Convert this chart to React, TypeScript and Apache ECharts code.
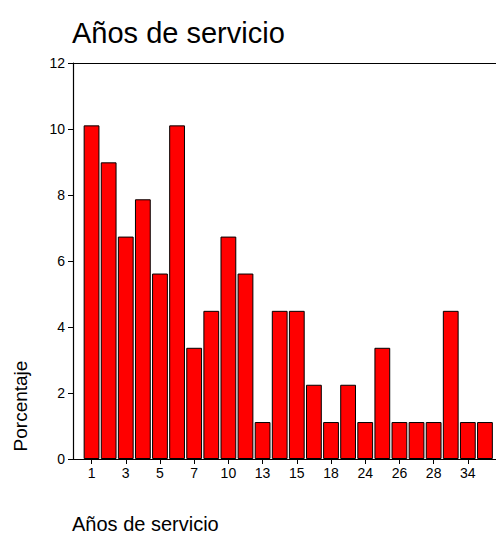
import React, { useEffect, useRef } from "react";
import * as echarts from "echarts";

const categories = ["1","2","3","4","5","6","7","8","10","12","13","14","15","16","18","20","24","25","26","27","28","30","34","35"];
const percentages = [10.11,8.99,6.74,7.87,5.62,10.11,3.37,4.49,6.74,5.62,1.12,4.49,4.49,2.25,1.12,2.25,1.12,3.37,1.12,1.12,1.12,4.49,1.12,1.12];
const yTicks = { min: 0, max: 12, interval: 2 };
const titleText = "Años de servicio";
const xAxisTitle = "Años de servicio";
const yAxisTitle = "Porcentaje";

const FONT = "'Liberation Sans', Arial, Helvetica, sans-serif";

export default function App() {
  const ref = useRef<HTMLDivElement>(null);
  useEffect(() => {
    if (!ref.current) return;
    const chart = echarts.init(ref.current, null, { renderer: "svg" });
    chart.setOption({
      animation: false,
      backgroundColor: "#ffffff",
      title: {
        text: titleText,
        left: 67,
        top: 13,
        textStyle: { fontSize: 29, fontWeight: "normal", color: "#000", fontFamily: FONT },
      },
      grid: [
        { left: 83, right: 2.5, top: 63, bottom: 75, containLabel: false },
        { left: 73, right: 0, top: 63, bottom: 75, containLabel: false },
      ],
      xAxis: [
        {
          type: "category",
          gridIndex: 0,
          data: categories,
          boundaryGap: true,
          axisLine: { show: false },
          axisTick: { show: true, interval: 1, alignWithLabel: true, length: 5, lineStyle: { color: "#000", width: 1 } },
          axisLabel: { interval: 1, margin: 7, fontSize: 14, color: "#000", fontFamily: FONT },
          splitLine: { show: false },
        },
        {
          type: "value",
          gridIndex: 1,
          position: "bottom",
          min: 0,
          max: 1,
          axisLine: { show: true, lineStyle: { color: "#000", width: 1.2 } },
          axisTick: { show: false },
          axisLabel: { show: false },
          splitLine: { show: false },
        },
        {
          type: "value",
          gridIndex: 1,
          position: "top",
          min: 0,
          max: 1,
          axisLine: { show: true, lineStyle: { color: "#000", width: 1.2 } },
          axisTick: { show: false },
          axisLabel: { show: false },
          splitLine: { show: false },
        },
      ],
      yAxis: [
        {
          type: "value",
          gridIndex: 0,
          min: yTicks.min,
          max: yTicks.max,
          interval: yTicks.interval,
          offset: 10,
          axisLine: { show: true, lineStyle: { color: "#000", width: 1.2 } },
          axisTick: { show: true, length: 5, lineStyle: { color: "#000", width: 1 } },
          axisLabel: { margin: 8, fontSize: 14, color: "#000", fontFamily: FONT },
          splitLine: { show: false },
        },
        {
          type: "value",
          gridIndex: 1,
          min: 0,
          max: 1,
          show: false,
        },
      ],
      graphic: [
        {
          type: "text",
          x: 20,
          y: 406,
          rotation: Math.PI / 2,
          style: {
            text: yAxisTitle,
            fontSize: 19,
            fontFamily: FONT,
            fill: "#000",
            align: "center",
            verticalAlign: "middle",
          },
        },
        {
          type: "text",
          x: 72,
          y: 524,
          style: {
            text: xAxisTitle,
            fontSize: 20,
            fontFamily: FONT,
            fill: "#000",
            align: "left",
            verticalAlign: "middle",
          },
        },
      ],
      series: [
        {
          type: "bar",
          xAxisIndex: 0,
          yAxisIndex: 0,
          data: percentages,
          barWidth: 15.8,
          itemStyle: { color: "#ff0000", borderColor: "#000", borderWidth: 1 },
          silent: true,
        },
      ],
    });
    return () => chart.dispose();
  }, []);
  return <div ref={ref} style={{ width: 496, height: 534, position: "absolute", left: 0, top: 0 }} />;
}
